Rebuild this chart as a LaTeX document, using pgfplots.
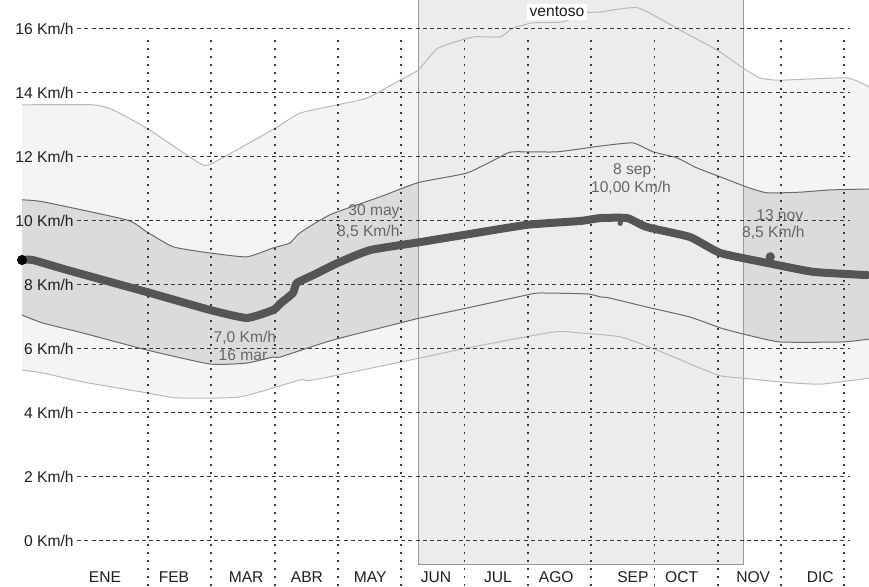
\documentclass[border=0pt]{standalone}
\usepackage{fontspec}
\setmainfont{Liberation Sans}
\usepackage{pgfplots}
\pgfplotsset{compat=1.18}
\usepgfplotslibrary{fillbetween}
\definecolor{meanline}{HTML}{555555}
\definecolor{boxfill}{HTML}{ECECEC}
\definecolor{outeredge}{HTML}{B8B8B8}
\definecolor{inneredge}{HTML}{6A6A6A}
\definecolor{gridc}{HTML}{3A3A3A}
\definecolor{labc}{HTML}{1E1E1E}
\definecolor{notec}{HTML}{666666}
\newcommand{\lab}{\fontsize{7.8}{9}\selectfont}
\begin{document}
\begin{tikzpicture}
\begin{axis}[
  width=434.5pt, height=293.5pt, scale only axis,
  xmin=-1.338, xmax=12.39, ymin=-1.4375, ymax=16.906,
  hide axis,
]
% periodo ventoso
\addplot[fill=boxfill, draw=black!40, line width=0.5pt] coordinates
  {(5.27,-0.75) (5.27,17.5) (10.40,17.5) (10.40,-0.75)} -- cycle;
% etiquetas del eje y
\pgfplotsinvokeforeach{0,2,...,16}{
  \node[anchor=east, text=labc, font=\lab, inner sep=0pt]
    at (axis cs:-0.17,#1) {#1 Km/h};
}
% banda 10-90
\addplot[name path=ou, outeredge, line width=0.5pt, smooth, tension=0.3] coordinates {
(-0.99,13.63) (0.13,13.63) (0.45,13.47) (0.98,12.9) (1.82,11.8) (2.01,11.8)
(3.01,12.9) (3.40,13.37) (3.99,13.63) (4.46,13.84) (4.98,14.4) (5.27,14.72)
(5.58,15.4) (6.13,15.75) (6.56,15.75) (6.77,16.03) (7.08,16.19) (7.56,16.22)
(7.83,16.5) (8.14,16.53) (8.74,16.66) (9.40,15.97) (9.99,15.34) (10.40,14.78)
(10.67,14.47) (10.98,14.4) (12.04,14.47) (12.39,14.19)};
\addplot[name path=ol, outeredge, line width=0.5pt, smooth, tension=0.3] coordinates {
(-0.99,5.34) (-0.66,5.25) (-0.03,4.97) (0.98,4.63) (1.46,4.47) (2.45,4.5)
(3.40,5.03) (3.61,5.03) (5.30,5.72) (6.04,6.03) (7.40,6.53) (7.83,6.5)
(8.46,6.38) (9.04,5.97) (9.99,5.19) (10.40,5.09) (10.98,4.97) (11.62,4.9)
(12.39,5.09)};
\addplot[black, fill opacity=0.045] fill between[of=ou and ol];
% banda 25-75
\addplot[name path=iu, inneredge, line width=0.5pt, smooth, tension=0.3] coordinates {
(-0.99,10.66) (-0.66,10.6) (0.67,10.03) (0.98,9.66) (1.40,9.19) (1.98,9.0)
(2.56,8.88) (2.98,9.16) (3.24,9.31) (3.40,9.63) (3.88,10.2) (4.66,10.75)
(5.27,11.2) (6.04,11.5) (6.56,12.0) (6.75,12.16) (7.46,12.16) (8.14,12.34)
(8.66,12.44) (8.98,12.16) (9.36,11.97) (9.67,11.66) (10.04,11.38) (10.46,11.06)
(10.78,10.88) (11.3,10.9) (11.77,10.97) (12.39,11.0)};
\addplot[name path=il, inneredge, line width=0.5pt, smooth, tension=0.3] coordinates {
(-0.99,7.06) (-0.66,6.81) (-0.03,6.5) (0.98,5.97) (1.98,5.53) (2.56,5.56)
(2.98,5.75) (3.09,5.75) (3.92,6.28) (4.98,6.81) (5.30,6.97) (6.04,7.28)
(6.99,7.69) (7.19,7.75) (7.94,7.72) (8.14,7.63) (8.30,7.59) (8.88,7.31)
(9.56,7.0) (10.04,6.66) (10.40,6.47) (10.98,6.22) (11.98,6.22) (12.39,6.31)};
\addplot[black, fill opacity=0.1] fill between[of=iu and il];
% cuadricula
\pgfplotsinvokeforeach{0,2,...,16}{
  \draw[gridc, line width=0.5pt, dash pattern=on 2pt off 1.6pt]
    (axis cs:-0.12,#1) -- (axis cs:12.09,#1);
}
\pgfplotsinvokeforeach{1,...,12}{
  \draw[gridc, line width=0.9pt, dash pattern=on 1.3pt off 2.7pt]
    (axis cs:#1,15.66) -- (axis cs:#1,-1.44);
}
% velocidad media
\addplot[meanline, line width=4pt, line join=round, line cap=round, smooth, tension=0.3] coordinates {
(-0.99,8.78) (-0.82,8.78) (-0.28,8.47) (0.98,7.78) (1.98,7.22) (2.56,6.97)
(2.98,7.22) (3.09,7.42) (3.29,7.75) (3.35,8.06) (3.61,8.31) (4.00,8.69)
(4.51,9.09) (5.30,9.34) (5.98,9.56) (6.99,9.88) (7.83,10.0) (8.14,10.09)
(8.57,10.09) (8.88,9.81) (9.56,9.5) (10.04,9.0) (10.78,8.69) (11.51,8.41)
(12.36,8.31)};
\addplot[only marks, mark=*, mark size=2.3pt, black] coordinates {(-0.99,8.78)};
\addplot[only marks, mark=*, mark size=2.1pt, meanline] coordinates {(10.83,8.88)};
\addplot[only marks, mark=*, mark size=1.1pt, meanline] coordinates {(8.46,9.93)};
% anotaciones
\begin{scope}[every node/.style={text=notec, font=\lab, inner sep=0pt}]
\node at (axis cs:2.53,6.36) {7,0 Km/h};
\node at (axis cs:2.50,5.80) {16 mar};
\node at (axis cs:4.57,10.28) {30 may};
\node at (axis cs:4.48,9.66) {8,5 Km/h};
\node at (axis cs:8.65,11.56) {8 sep};
\node at (axis cs:8.63,11.03) {10,00 Km/h};
\node at (axis cs:10.98,10.19) {13 nov};
\node at (axis cs:10.88,9.62) {8,5 Km/h};
\end{scope}
\node[fill=white, text=labc, font=\lab, inner sep=1.5pt]
  at (axis cs:7.46,16.53) {ventoso};
% meses
\begin{scope}[every node/.style={text=labc, font=\lab, inner sep=0pt}]
\node at (axis cs:0.32,-1.12) {ENE};
\node at (axis cs:1.41,-1.12) {FEB};
\node at (axis cs:2.55,-1.12) {MAR};
\node at (axis cs:3.51,-1.12) {ABR};
\node at (axis cs:4.51,-1.12) {MAY};
\node at (axis cs:5.55,-1.12) {JUN};
\node at (axis cs:6.53,-1.12) {JUL};
\node at (axis cs:7.45,-1.12) {AGO};
\node at (axis cs:8.66,-1.12) {SEP};
\node at (axis cs:9.43,-1.12) {OCT};
\node at (axis cs:10.56,-1.12) {NOV};
\node at (axis cs:11.62,-1.12) {DIC};
\end{scope}
\end{axis}
\pgfresetboundingbox
\path (0,0) rectangle (434.5pt,293.5pt);
\end{tikzpicture}
\end{document}
